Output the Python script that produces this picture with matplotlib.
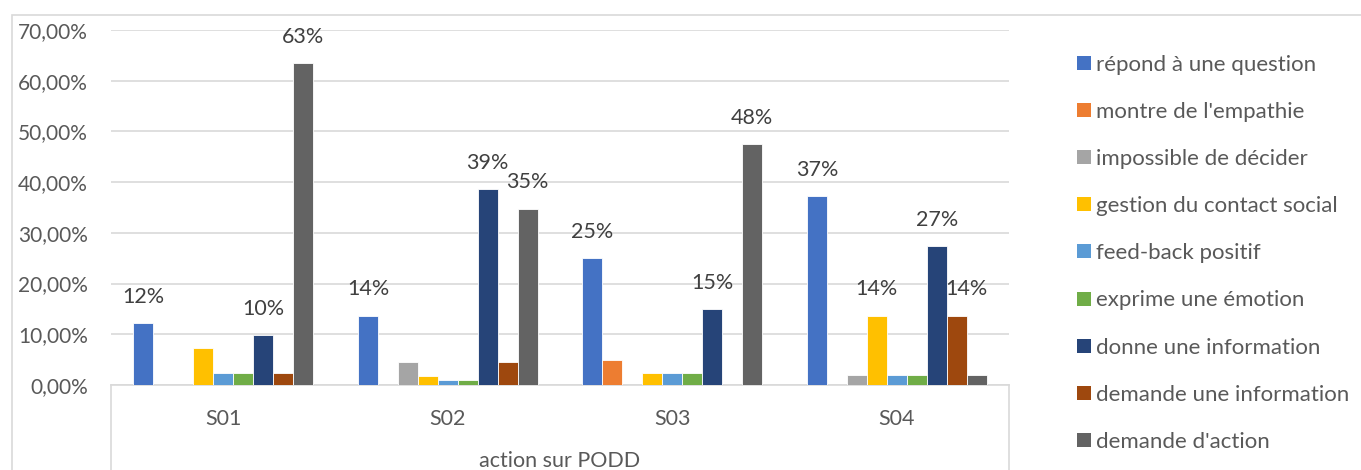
import matplotlib
matplotlib.use("Agg")
import matplotlib.pyplot as plt
from matplotlib.lines import Line2D
from matplotlib.patches import Rectangle
import numpy as np

plt.rcParams['font.family'] = ['Lato', 'DejaVu Sans']

categories = ["S01", "S02", "S03", "S04"]
series_names = [
    "répond à une question",
    "montre de l'empathie",
    "impossible de décider",
    "gestion du contact social",
    "feed-back positif",
    "exprime une émotion",
    "donne une information",
    "demande une information",
    "demande d'action",
]
colors = ["#4472C4", "#ED7D31", "#A5A5A5", "#FFC000", "#5B9BD5",
          "#70AD47", "#264478", "#9E480E", "#636363"]

# values in percent, one list per series (S01..S04)
values = [
    [12.2, 13.7, 25.0, 37.2],   # répond à une question
    [0.0, 0.0, 4.9, 0.0],       # montre de l'empathie
    [0.0, 4.5, 0.0, 1.9],       # impossible de décider
    [7.3, 1.8, 2.4, 13.7],      # gestion du contact social
    [2.4, 0.9, 2.4, 1.9],       # feed-back positif
    [2.4, 0.9, 2.4, 1.9],       # exprime une émotion
    [9.8, 38.6, 14.9, 27.4],    # donne une information
    [2.4, 4.5, 0.0, 13.7],      # demande une information
    [63.4, 34.8, 47.5, 1.9],    # demande d'action
]
# which bars carry a value label (series index, category index)
labelled = [(0, 0), (6, 0), (8, 0),
            (0, 1), (6, 1), (8, 1),
            (0, 2), (6, 2), (8, 2),
            (0, 3), (3, 3), (6, 3), (7, 3)]

axis_title = "action sur PODD"
ytick_vals = [0, 10, 20, 30, 40, 50, 60, 70]

W, H = 1361, 470
fig = plt.figure(figsize=(W / 100, H / 100), dpi=100)


def fx(px):
    return px / W


def fy(py):
    return (H - py) / H


# chart frame
fig.add_artist(Rectangle((fx(12), -0.1), 1.2, fy(15) + 0.1,
                         transform=fig.transFigure, fill=False,
                         edgecolor="#D9D9D9", linewidth=1.2))

ax_l, ax_r, ax_b, ax_t = 111, 1009, 385, 30
ax = fig.add_axes([fx(ax_l), fy(ax_b), fx(ax_r - ax_l), (ax_b - ax_t) / H])

n = len(series_names)
w = 0.8 / n
x = np.arange(len(categories))
for i, (name, col, vals) in enumerate(zip(series_names, colors, values)):
    ax.bar(x + (i - (n - 1) / 2) * w, vals, width=w, color=col,
           edgecolor="white", linewidth=0.6, label=name, zorder=3)

for si, ci in labelled:
    v = values[si][ci]
    # the label of the last-but-one bar in S04 is pushed right, off the navy bar
    dx = 7.2 if (si, ci) == (7, 3) else 0
    ax.annotate(f"{v:.0f}%", (x[ci] + (si - (n - 1) / 2) * w, v),
                xytext=(dx, 19), textcoords="offset points",
                ha="center", va="center", fontsize=15.5, color="#404040",
                zorder=4)

ax.set_xlim(-0.5, len(categories) - 0.5)
ax.set_ylim(0, 70)
ax.set_yticks(ytick_vals)
ax.set_yticklabels([f"{v:.2f}%".replace(".", ",") for v in ytick_vals],
                   fontsize=15, color="#595959")
ax.yaxis.grid(True, color="#D9D9D9", linewidth=1.2, zorder=0)
ax.set_axisbelow(True)
ax.tick_params(axis="y", length=0, pad=16.5)
ax.tick_params(axis="x", length=0, pad=17)
ax.set_xticks(x)
ax.set_xticklabels(categories, fontsize=15.5, color="#595959")
for s in ["top", "right", "left"]:
    ax.spines[s].set_visible(False)
ax.spines["bottom"].set_color("#D9D9D9")
ax.spines["bottom"].set_linewidth(1.2)

# multi-level category box below the axis
for xp in (ax_l, ax_r):
    fig.add_artist(Line2D([fx(xp), fx(xp)], [0, fy(ax_b)],
                          transform=fig.transFigure, color="#D9D9D9",
                          linewidth=1.2))
fig.text(fx((ax_l + ax_r) / 2), fy(461), axis_title, ha="center",
         va="center", fontsize=15.5, color="#595959")

# legend column
row0, row_step = 63, 47.1
for i, (name, col) in enumerate(zip(series_names, colors)):
    yc = row0 + i * row_step
    fig.add_artist(Rectangle((fx(1077), fy(yc + 7)), fx(14), 14 / H,
                             transform=fig.transFigure, facecolor=col,
                             edgecolor="none"))
    fig.text(fx(1096), fy(yc), name, ha="left", va="center_baseline",
             fontsize=16, color="#595959")

fig.savefig("out.png", dpi=100)
